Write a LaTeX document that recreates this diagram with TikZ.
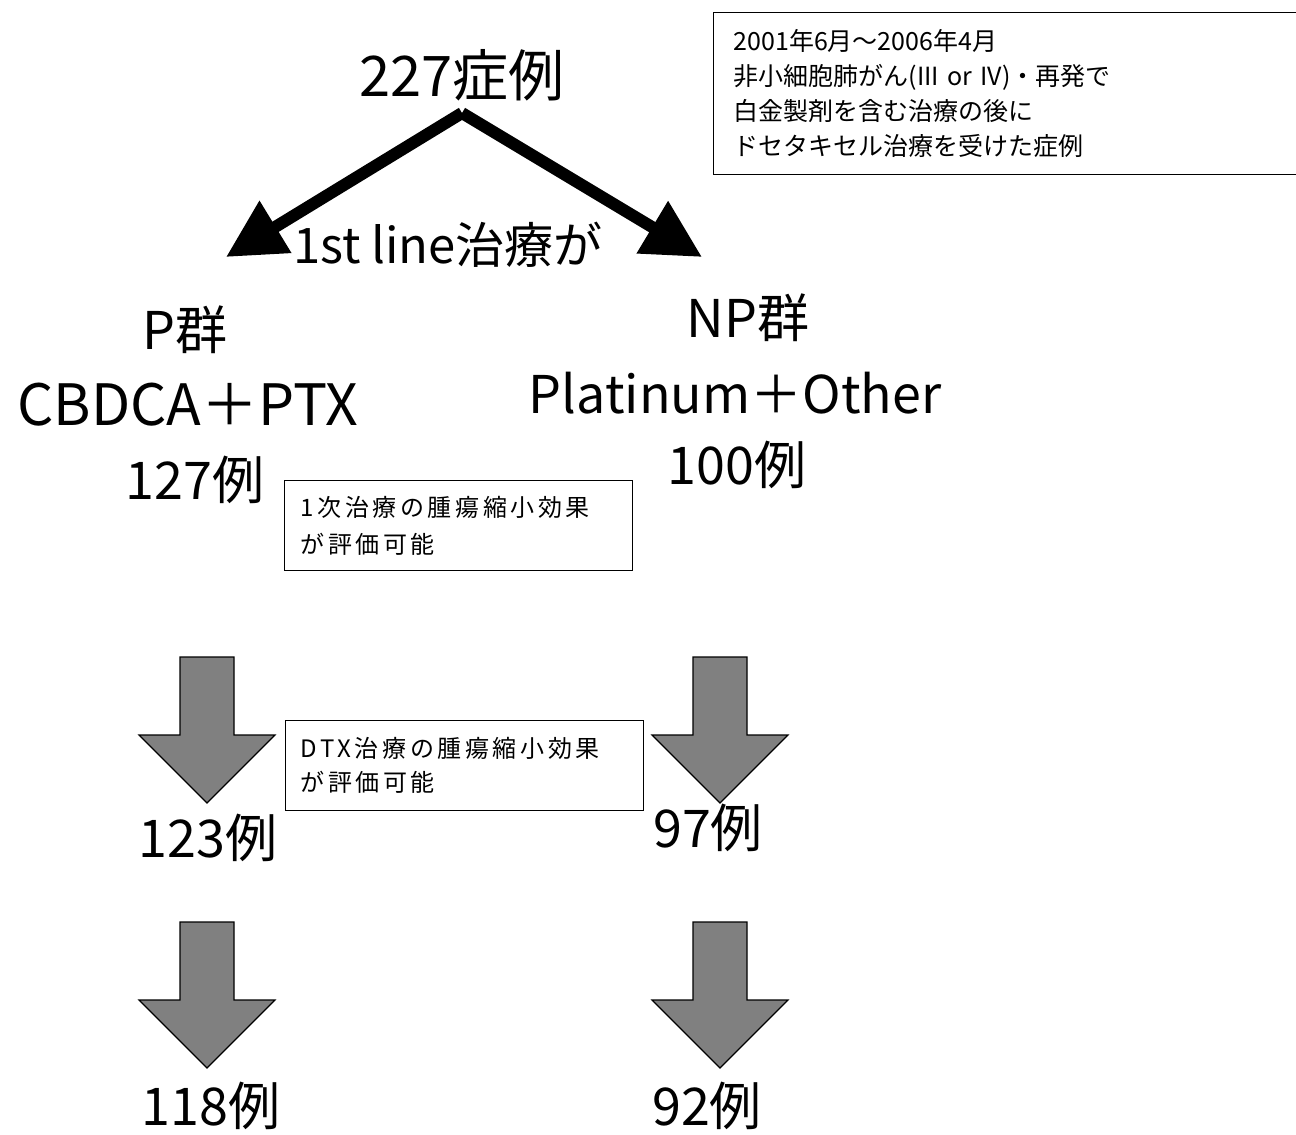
\documentclass[tikz,border=0pt]{standalone}
\usepackage{fontspec}
\setmainfont{Noto Sans CJK JP}
\newfontfamily\spacedfont[LetterSpace=15]{Noto Sans CJK JP}
\usetikzlibrary{arrows.meta}
\definecolor{arrowgray}{RGB}{128,128,128}
\tikzset{
  bigtext/.style={font=\fontsize{52}{60}\selectfont, inner sep=0pt},
  widetext/.style={font=\fontsize{57}{64}\selectfont, inner sep=0pt},
  toptext/.style={font=\fontsize{56}{64}\selectfont, inner sep=0pt},
  midtext/.style={font=\fontsize{49}{56}\selectfont, inner sep=0pt},
  notebox/.style={draw=black, line width=1.2pt, fill=white, align=left, inner ysep=0pt},
  splitarrow/.style={line width=12pt, -{Triangle[length=58pt,width=58pt]}},
  blockarrow/.pic={\path[draw=black, line width=1.2pt, fill=arrowgray]
     (-27,0) -- (27,0) -- (27,78) -- (68,78) -- (0,146) -- (-68,78) -- (-27,78) -- cycle;}
}
\begin{document}
\begin{tikzpicture}[x=1pt,y=-1pt]
\useasboundingbox[fill=white] (0,0) rectangle (1296,1135);

% criteria box
\node[notebox, anchor=north west, minimum height=162pt, text width=560pt, inner xsep=20pt,
      font=\fontsize{25}{35}\selectfont] (criteria) at (713,12)
  {2001年6月～2006年4月\\非小細胞肺がん(III or IV)・再発で\\白金製剤を含む治療の後に\\ドセタキセル治療を受けた症例};

% total and split
\node[toptext] (total) at (462,75) {227症例};
\coordinate (apex) at (462,113);
\coordinate (tipL) at (226,257);
\coordinate (tipR) at (702,257);
\draw[splitarrow] (apex) -- (tipL);
\draw[splitarrow] (apex) -- (tipR);
\node[midtext] (lbl) at (448,245) {1st line治療が};

% groups
\node[bigtext] (pg) at (185,330) {P群};
\node[widetext] (pdrug) at (188,405) {CBDCA＋PTX};
\node[bigtext] (pn) at (195,480) {127例};
\node[bigtext] (npg) at (748,318) {NP群};
\node[bigtext] (npdrug) at (735,393) {Platinum＋Other};
\node[bigtext] (npn) at (737,465) {100例};

% first evaluation box
\node[notebox, anchor=north west, minimum height=90pt, text width=316pt, inner xsep=16pt,
      font=\spacedfont\fontsize{24}{37}\selectfont] (eval1) at (284,480)
  {1次治療の腫瘍縮小効果\\が評価可能};

% block arrows
\pic at (207,657) {blockarrow};
\pic at (720,657) {blockarrow};
\pic at (207,922) {blockarrow};
\pic at (720,922) {blockarrow};

% second evaluation box
\node[notebox, anchor=north west, minimum height=90pt, text width=328pt, inner xsep=15pt,
      font=\spacedfont\fontsize{24}{34}\selectfont] (eval2) at (285,720)
  {DTX治療の腫瘍縮小効果\\が評価可能};

% counts
\node[bigtext] (p2) at (208,838) {123例};
\node[bigtext] (np2) at (708,828) {97例};
\node[bigtext] (p3) at (211,1106) {118例};
\node[bigtext] (np3) at (707,1106) {92例};
\end{tikzpicture}
\end{document}
